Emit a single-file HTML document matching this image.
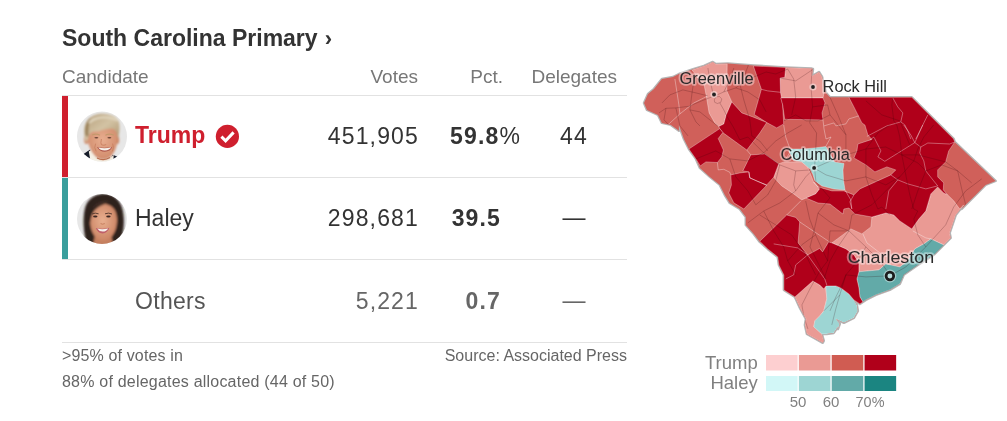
<!DOCTYPE html>
<html lang="en">
<head>
<meta charset="utf-8">
<title>South Carolina Primary</title>
<style>
html,body{margin:0;padding:0;background:#fff;}
body{width:1007px;height:421px;position:relative;overflow:hidden;font-family:"Liberation Sans",sans-serif;color:#333;}
.abs{position:absolute;white-space:nowrap;}
.layer{position:absolute;left:0;top:0;width:1007px;height:421px;will-change:transform;}
.title{left:62px;top:24px;font-size:23px;font-weight:700;color:#333;line-height:28px;}
.hdr{font-size:19px;color:#777;line-height:22px;top:65.5px;}
.line{position:absolute;left:62px;width:565px;height:1px;background:#e2e2e2;}
.bar{position:absolute;left:62px;width:6px;height:81px;}
.name{left:135px;font-size:23px;line-height:28px;}
.num{font-size:23px;line-height:28px;text-align:right;letter-spacing:1.15px;}
.foot{font-size:16px;color:#666;line-height:20px;}
</style>
</head>
<body>
<div class="layer">
<div class="abs title">South Carolina Primary<span style="margin-left:7px;font-size:22px">›</span></div>
<div class="abs hdr" style="left:62px">Candidate</div>
<div class="abs hdr" style="right:589px">Votes</div>
<div class="abs hdr" style="right:504px">Pct.</div>
<div class="abs hdr" style="right:390px">Delegates</div>
<div class="line" style="top:95px"></div>
<div class="line" style="top:177px"></div>
<div class="line" style="top:259px"></div>
<div class="line" style="top:342px"></div>
<div class="bar" style="top:96px;background:#cf1f2e"></div>
<div class="bar" style="top:178px;background:#3a9e9c"></div>

<div class="abs name" style="top:121px;color:#cf1f2e;font-weight:700">Trump</div>
<div class="abs name" style="top:203.5px">Haley</div>
<div class="abs name" style="top:286.5px;color:#555;letter-spacing:.3px">Others</div>

<div class="abs num" style="top:122px;right:588px">451,905</div>
<div class="abs num" style="top:204px;right:588px">298,681</div>
<div class="abs num" style="top:287px;right:588px;color:#666">5,221</div>

<div class="abs num" style="top:122px;left:450px"><b>59.8</b>%</div>
<div class="abs num" style="top:204px;right:506px"><b>39.5</b></div>
<div class="abs num" style="top:287px;right:506px;color:#666"><b>0.7</b></div>

<div class="abs num" style="top:122px;left:560px">44</div>
<div class="abs num" style="top:203px;left:562.6px;letter-spacing:0">—</div>
<div class="abs num" style="top:286px;left:562.6px;color:#666;letter-spacing:0">—</div>

<div class="abs foot" style="left:62px;top:346px;letter-spacing:.14px">&gt;95% of votes in</div>
<div class="abs foot" style="left:62px;top:372px;letter-spacing:.21px">88% of delegates allocated (44 of 50)</div>
<div class="abs foot" style="right:380px;top:346px">Source: Associated Press</div>
<svg class="abs" style="left:0;top:0;font-family:'Liberation Sans',sans-serif" width="1007" height="421" viewBox="0 0 1007 421">
<polygon points="644.0,102.9 648.0,93.9 654.0,88.9 661.9,79.0 672.9,77.0 678.9,74.0 693.9,69.0 703.9,66.0 712.8,62.0 715.8,64.0 727.8,63.4 753.8,65.4 785.7,67.4 811.7,68.6 813.0,69.0 812.0,76.0 819.0,72.0 822.0,76.6 826.0,92.9 830.0,97.3 911.8,97.3 953.7,139.0 954.7,142.0 995.6,180.9 985.6,184.9 975.7,194.9 965.7,204.8 961.7,209.0 963.7,205.0 955.7,215.0 949.7,232.9 950.7,237.9 943.7,244.9 933.7,254.9 917.8,264.9 903.8,274.8 899.8,283.9 889.8,289.9 875.9,294.9 865.9,299.9 862.9,301.9 859.9,303.9 853.9,299.9 856.9,304.9 857.9,310.9 853.9,317.9 843.9,322.8 835.9,318.9 839.9,323.8 837.9,329.0 837.8,326.9 833.8,332.9 826.8,333.9 821.8,333.9 823.8,340.8 822.8,342.8 815.8,338.9 806.9,333.9 804.9,324.9 805.9,318.9 799.9,307.9 794.9,296.9 783.9,290.0 783.9,275.0 778.9,265.0 777.7,256.9 767.7,248.9 759.8,241.9 753.8,233.9 745.8,224.9 745.8,217.0 739.8,209.0 729.8,203.0 724.8,195.0 719.8,184.9 709.9,176.9 699.9,167.9 695.9,158.9 688.9,149.0 683.9,139.0 678.9,125.0 678.9,130.8 670.9,124.9 661.9,122.9 658.0,114.9 647.0,109.9" fill="#d0605a" stroke="#b5b5b5" stroke-width="2.5" stroke-linejoin="round"/>
<polygon points="644.0,102.9 648.0,93.9 654.0,88.9 661.9,79.0 672.9,77.0 678.9,74.0 693.9,69.0 703.9,66.0 712.8,62.0 715.8,64.0 727.8,63.4 753.8,65.4 785.7,67.4 811.7,68.6 813.0,69.0 812.0,76.0 819.0,72.0 822.0,76.6 826.0,92.9 830.0,97.3 911.8,97.3 953.7,139.0 954.7,142.0 995.6,180.9 985.6,184.9 975.7,194.9 965.7,204.8 961.7,209.0 963.7,205.0 955.7,215.0 949.7,232.9 950.7,237.9 943.7,244.9 933.7,254.9 917.8,264.9 903.8,274.8 899.8,283.9 889.8,289.9 875.9,294.9 865.9,299.9 862.9,301.9 859.9,303.9 853.9,299.9 856.9,304.9 857.9,310.9 853.9,317.9 843.9,322.8 835.9,318.9 839.9,323.8 837.9,329.0 837.8,326.9 833.8,332.9 826.8,333.9 821.8,333.9 823.8,340.8 822.8,342.8 815.8,338.9 806.9,333.9 804.9,324.9 805.9,318.9 799.9,307.9 794.9,296.9 783.9,290.0 783.9,275.0 778.9,265.0 777.7,256.9 767.7,248.9 759.8,241.9 753.8,233.9 745.8,224.9 745.8,217.0 739.8,209.0 729.8,203.0 724.8,195.0 719.8,184.9 709.9,176.9 699.9,167.9 695.9,158.9 688.9,149.0 683.9,139.0 678.9,125.0 678.9,130.8 670.9,124.9 661.9,122.9 658.0,114.9 647.0,109.9" fill="#d0605a"/>
<clipPath id="cpS"><polygon points="644.0,102.9 648.0,93.9 654.0,88.9 661.9,79.0 672.9,77.0 678.9,74.0 693.9,69.0 703.9,66.0 712.8,62.0 715.8,64.0 727.8,63.4 753.8,65.4 785.7,67.4 811.7,68.6 813.0,69.0 812.0,76.0 819.0,72.0 822.0,76.6 826.0,92.9 830.0,97.3 911.8,97.3 953.7,139.0 954.7,142.0 995.6,180.9 985.6,184.9 975.7,194.9 965.7,204.8 961.7,209.0 963.7,205.0 955.7,215.0 949.7,232.9 950.7,237.9 943.7,244.9 933.7,254.9 917.8,264.9 903.8,274.8 899.8,283.9 889.8,289.9 875.9,294.9 865.9,299.9 862.9,301.9 859.9,303.9 853.9,299.9 856.9,304.9 857.9,310.9 853.9,317.9 843.9,322.8 835.9,318.9 839.9,323.8 837.9,329.0 837.8,326.9 833.8,332.9 826.8,333.9 821.8,333.9 823.8,340.8 822.8,342.8 815.8,338.9 806.9,333.9 804.9,324.9 805.9,318.9 799.9,307.9 794.9,296.9 783.9,290.0 783.9,275.0 778.9,265.0 777.7,256.9 767.7,248.9 759.8,241.9 753.8,233.9 745.8,224.9 745.8,217.0 739.8,209.0 729.8,203.0 724.8,195.0 719.8,184.9 709.9,176.9 699.9,167.9 695.9,158.9 688.9,149.0 683.9,139.0 678.9,125.0 678.9,130.8 670.9,124.9 661.9,122.9 658.0,114.9 647.0,109.9"/></clipPath>
<g clip-path="url(#cpS)">
<g stroke="#fff" stroke-opacity=".55" stroke-width=".6" stroke-linejoin="round">
<polygon points="692.1,70.0 703.9,66.0 712.8,62.0 715.8,64.0 727.2,63.8 726.8,90.9 731.8,101.9 726.2,114.9 723.8,123.9 718.8,126.5 714.8,122.9 709.1,112.9 706.1,94.9 704.1,84.9 698.1,78.0" fill="#ea9a94"/>
<polygon points="785.7,67.4 811.7,68.6 813.0,69.0 812.0,76.0 819.0,72.0 822.0,76.6 824.0,92.9 823.0,97.9 780.7,97.5 780.1,78.0 784.7,77.4" fill="#ea9a94"/>
<polygon points="778.7,163.9 783.7,161.9 801.7,161.9 807.7,166.9 813.6,181.9 819.6,188.9 815.6,193.9 801.7,199.9 793.7,193.9 781.7,185.9 773.7,177.3" fill="#ea9a94"/>
<polygon points="930.8,193.9 937.7,186.9 943.7,192.9 947.7,194.9 953.7,200.8 959.7,209.0 963.7,205.0 955.7,215.0 949.7,232.9 950.7,237.9 943.7,244.9 930.8,238.9 923.8,243.9 914.8,248.9 907.8,260.9 899.8,266.9 885.8,263.9 878.9,269.9 858.9,271.8 858.9,262.9 853.9,254.9 845.9,248.9 831.9,242.9 850.9,228.9 861.9,233.9 870.9,226.9 871.9,217.0 885.8,213.0 893.8,215.0 899.8,220.9 911.8,228.9 918.8,219.0 925.8,211.0 930.8,195.0" fill="#ea9a94"/>
<polygon points="794.9,296.9 812.8,281.0 819.8,285.0 823.8,289.0 825.8,286.6 826.8,298.9 823.8,310.9 819.8,315.9 814.8,320.9 813.8,326.9 821.8,333.9 823.8,340.8 822.8,342.8 815.8,338.9 806.9,333.9 804.9,324.9 805.9,318.9 799.9,307.9" fill="#ea9a94"/>
<polygon points="789.0,151.0 790.5,149.0 802.0,149.0 814.0,148.0 826.0,146.5 830.0,154.0 834.5,162.0 844.0,163.5 843.0,170.0 843.5,180.0 845.0,190.0 834.0,189.0 822.0,186.0 815.0,181.0 812.7,174.0 810.0,169.0 806.0,165.6 801.6,161.8 793.0,160.0" fill="#9dd5d3"/>
<polygon points="826.0,285.9 835.9,285.9 840.9,287.9 848.9,293.9 853.9,299.9 856.9,304.9 857.9,310.9 853.9,317.9 843.9,322.8 835.9,318.9 839.9,323.8 837.9,329.0 837.8,326.9 833.8,332.9 826.8,333.9 821.8,333.9 813.8,326.9 814.8,320.9 819.8,315.9 823.8,310.9 826.8,298.9 825.8,286.6" fill="#9dd5d3"/>
<polygon points="943.7,244.9 930.8,238.9 923.8,243.9 914.8,248.9 907.8,260.9 899.8,266.9 885.8,263.9 878.9,269.9 858.9,271.8 856.9,278.9 858.9,287.9 859.9,296.9 862.9,301.9 865.9,299.9 875.9,294.9 889.8,289.9 899.8,283.9 903.8,276.9 913.8,270.9 925.8,264.0 935.7,255.0 945.7,245.0" fill="#62aaa8"/>
<polygon points="753.4,66.0 785.7,67.4 784.7,77.4 780.1,78.0 780.5,92.3 782.7,104.9 783.7,123.9 776.7,127.9 766.7,122.5 754.2,114.5 761.4,89.3" fill="#b0001a"/>
<polygon points="780.7,97.9 806.0,97.9 823.0,97.9 825.0,102.9 822.0,112.9 823.0,119.9 784.7,119.3 782.7,104.9" fill="#b0001a"/>
<polygon points="731.8,101.9 741.8,112.9 752.8,116.9 766.7,122.5 759.8,133.0 746.8,150.0 722.8,132.6 719.8,128.6 718.8,126.5 723.8,123.9 726.2,114.9" fill="#b0001a"/>
<polygon points="688.9,149.0 719.8,128.6 722.8,132.6 718.2,138.6 723.4,150.0 721.8,156.9 717.4,162.5 705.9,161.9 700.3,165.9 695.9,158.9" fill="#b0001a"/>
<polygon points="742.8,170.9 750.8,154.9 764.7,153.9 778.7,163.9 773.7,177.3 766.7,184.9 755.8,180.9 749.8,177.9 748.8,171.9" fill="#b0001a"/>
<polygon points="730.8,174.9 739.8,172.9 748.8,171.9 749.8,177.9 766.7,185.3 743.8,209.0 733.8,202.8 728.8,192.9 731.4,184.9" fill="#b0001a"/>
<polygon points="759.8,241.3 786.7,215.0 795.7,217.4 799.7,221.9 798.1,242.9 807.7,254.9 819.6,248.5 822.6,251.9 828.6,241.9 831.9,242.9 845.9,248.9 853.9,254.9 858.9,262.9 858.9,271.8 856.9,278.9 858.9,287.9 859.9,296.9 862.9,301.9 859.9,303.9 853.9,299.9 848.9,293.9 840.9,287.9 835.9,285.9 826.0,285.9 823.8,289.0 819.8,285.0 812.8,281.0 794.9,296.9 783.9,290.0 783.9,275.0 778.9,265.0 777.7,256.9 767.7,248.9" fill="#b0001a"/>
<polygon points="848.9,97.3 911.8,97.3 953.7,139.0 954.7,142.0 948.7,150.9 945.7,161.9 937.7,169.9 937.7,176.9 943.7,182.9 943.3,189.9 947.3,194.5 943.7,192.9 937.7,186.9 930.8,193.9 925.8,211.0 918.8,219.0 911.8,228.9 899.8,220.9 893.8,215.0 885.8,213.0 871.9,217.0 854.9,214.0 848.9,208.0 843.9,209.0 842.9,214.0 830.0,204.0 818.0,203.0 806.0,198.0 815.6,193.9 819.6,188.9 813.6,181.9 818.0,186.9 831.9,190.9 843.9,190.9 853.9,194.9 859.9,188.9 890.8,174.9 895.8,169.9 886.8,166.9 874.9,171.9 865.9,164.9 853.9,157.9 856.9,150.9 857.9,144.0 871.9,139.4 867.9,135.0 864.9,125.0 861.9,122.9 853.9,106.9" fill="#b0001a"/>
</g>
<g fill="none" stroke="#fff" stroke-opacity=".5" stroke-width=".7" stroke-linejoin="round">
<polyline points="674.9,79.0 676.9,91.9 678.9,104.9 679.9,113.9"/>
<polyline points="667.9,124.9 679.9,113.9 693.9,102.9 707.9,95.9"/>
<polyline points="761.4,89.3 767.7,90.9 780.5,92.3"/>
<polyline points="783.7,125.0 785.7,137.0 790.7,150.9 784.7,160.9"/>
<polyline points="717.4,162.5 718.2,169.9 723.8,169.3 729.8,172.3 730.8,174.9"/>
<polyline points="748.8,171.9 749.8,177.9 766.7,185.3"/>
<polyline points="746.8,150.0 750.8,154.9"/>
<polyline points="799.7,221.9 828.6,241.3"/>
<polyline points="773.7,243.9 797.7,247.9 807.7,254.9"/>
<polyline points="807.7,254.9 795.7,264.9 793.7,274.8 785.7,279.0"/>
<polyline points="800.7,201.0 786.7,215.0"/>
<polyline points="807.7,254.9 814.8,265.0 824.8,279.0 826.8,285.0"/>
<polyline points="824.0,125.9 833.9,122.9 835.9,125.9 845.9,123.9 848.9,118.9 858.9,115.9"/>
<polyline points="823.0,119.9 824.0,128.9 826.0,139.0 831.0,137.0 826.0,146.0"/>
<polyline points="892.8,97.9 897.8,106.9 902.8,112.9 900.8,121.9 904.8,124.9 907.8,130.8 910.8,139.0"/>
<polyline points="927.8,114.9 915.8,139.0"/>
<polyline points="866.9,136.4 886.8,125.9 900.8,121.9"/>
<polyline points="869.9,140.0 873.9,137.0 876.9,143.0 880.9,150.9 877.9,156.9 884.8,161.3 914.8,142.6"/>
<polyline points="903.8,125.0 910.8,135.0 914.8,142.6"/>
<polyline points="922.8,125.0 914.8,142.6"/>
<polyline points="914.8,142.6 920.8,147.0 927.8,143.0 949.7,144.0 954.7,142.0"/>
<polyline points="920.8,147.0 919.8,152.9 923.8,160.9 925.8,170.9 933.7,180.9 937.7,185.9"/>
<polyline points="890.8,174.9 897.8,179.9 907.8,183.9 925.8,188.9 937.7,185.9"/>
<polyline points="897.8,179.9 888.8,190.9 885.8,209.0"/>
<polyline points="853.9,194.9 849.9,201.8 851.9,209.0"/>
<polyline points="844.9,189.9 850.8,199.9 851.8,208.8"/>
<polyline points="862.9,233.9 866.9,242.9 879.9,252.9 885.8,263.9"/>
<polyline points="912.8,230.9 925.8,237.9 930.8,238.9"/>
</g>
<g fill="none" stroke="#30000a" stroke-opacity=".3" stroke-width=".7" stroke-linejoin="round">
<polyline points="659.0,112.9 665.9,108.3 675.9,107.9 688.9,106.3 703.9,99.9 714.9,95.9 723.8,91.9 735.8,87.9 743.8,82.0 753.8,77.0 766.1,72.0 775.7,74.0 787.7,69.0"/>
<polyline points="693.9,80.0 691.9,93.9 689.9,109.9 695.9,121.9 699.9,125.9"/>
<polyline points="707.9,68.0 709.9,80.0 712.9,92.9 714.9,95.9"/>
<polyline points="719.8,102.9 723.8,109.9 727.8,117.9 733.8,127.9 739.8,139.8 747.8,137.0 763.7,152.9 779.7,164.9 795.7,170.9 811.7,169.9"/>
<polyline points="739.8,84.0 743.8,99.9 749.8,119.9 751.8,135.8 759.8,141.0 767.7,150.9"/>
<polyline points="812.0,69.0 811.0,86.9 812.6,106.9 809.7,122.9 816.6,133.0 815.6,150.9 814.6,167.9"/>
<polyline points="747.8,222.9 763.7,211.0 779.7,203.0 795.7,190.9 805.7,176.9 814.6,167.9"/>
<polyline points="814.6,167.9 826.0,162.9 845.9,154.9 865.9,149.0 885.8,147.0 901.8,154.9 917.8,162.9 925.8,170.9"/>
<polyline points="814.6,167.9 815.9,181.9 829.9,197.9 818.0,213.0 833.9,224.9 848.9,230.9 865.9,246.9 879.9,260.9 889.8,274.8"/>
<polyline points="801.9,304.9 809.9,289.0 819.8,271.0 827.6,260.9 830.0,230.9 848.9,230.9 851.9,215.0 871.9,204.8 885.8,190.9 899.8,176.9 913.8,160.9 917.8,149.0 923.8,137.0 933.7,125.0"/>
<polyline points="823.8,310.9 839.8,294.9 845.9,274.9 865.9,276.9 889.8,275.9 905.8,267.0 925.8,246.9 945.7,224.9 953.7,207.0 965.7,190.9 981.7,178.9"/>
<polyline points="925.8,170.9 941.7,164.9 957.7,170.9 971.7,182.9"/>
<polyline points="830.0,97.3 837.9,114.9 845.9,134.8 845.9,154.9"/>
<polyline points="865.9,100.9 881.8,114.9 899.8,120.9 909.8,145.0"/>
<polyline points="779.7,78.0 795.7,80.9 813.6,69.0"/>
<polyline points="695.9,158.9 715.8,150.9 729.8,158.9 747.8,160.9 763.7,152.9"/>
<polyline points="729.8,158.9 735.8,176.9 747.8,190.9 755.8,204.8"/>
<polyline points="759.8,215.0 775.7,224.9 791.7,234.9 805.7,254.9 815.6,274.8"/>
<polyline points="805.7,201.0 809.7,219.0 815.6,234.9 827.6,260.9"/>
<polyline points="662.0,102.9 669.9,94.9 682.9,89.9 695.9,92.9 707.9,95.9"/>
<polyline points="689.9,109.9 699.9,111.9 709.9,119.9 717.8,125.9"/>
<polyline points="714.3,99.9 715.8,96.9 719.4,96.5 721.8,98.9 720.8,102.3 717.4,103.5 714.7,102.3 714.3,99.9"/>
<polyline points="723.8,91.9 729.8,80.0 733.8,68.0"/>
<polyline points="735.8,87.9 747.8,91.9 759.8,99.9 766.1,111.9"/>
<polyline points="743.8,82.0 745.8,72.0 748.8,64.0"/>
<polyline points="665.9,108.3 664.0,119.9 669.9,125.9"/>
<polyline points="675.9,107.9 679.9,125.9 687.9,135.8"/>
<polyline points="865.9,149.0 877.9,133.0 889.8,125.0"/>
<polyline points="901.8,154.9 899.8,137.0 896.8,125.0 893.8,120.9 891.8,104.9 892.8,97.9"/>
<polyline points="901.8,154.9 905.8,174.9 909.8,194.9 913.8,209.0 917.8,211.0"/>
<polyline points="901.8,154.9 917.8,154.9 933.7,158.9 945.7,161.9 957.7,170.9"/>
<polyline points="925.8,170.9 917.8,190.9 911.8,209.0"/>
<polyline points="957.7,170.9 961.7,188.9 965.7,204.8"/>
<polyline points="865.9,176.9 845.9,180.9 826.0,174.9 814.0,167.9"/>
<polyline points="865.9,176.9 885.8,184.9 899.8,176.9"/>
<polyline points="865.9,176.9 865.9,164.9 865.9,149.0"/>
<polyline points="865.9,176.9 871.9,194.9 877.9,209.0 881.8,207.0 889.8,215.0"/>
<polyline points="830.0,114.9 818.0,120.9 806.0,120.9 795.7,114.9 783.7,120.9"/>
<polyline points="763.7,152.9 775.7,141.0 787.7,133.0 801.7,125.0"/>
<polyline points="779.7,164.9 775.7,180.9 767.7,194.9 755.8,204.8"/>
<polyline points="795.7,170.9 793.7,184.9 795.7,190.9"/>
<polyline points="763.7,211.0 773.7,230.9 783.7,246.9 787.7,260.9 795.7,274.8"/>
<polyline points="815.6,234.9 801.7,244.9 787.7,260.9"/>
<polyline points="818.0,213.0 814.0,230.9 810.0,246.9 818.0,262.9 826.0,279.0"/>
<polyline points="848.9,230.9 837.9,246.9 830.0,260.9 824.0,279.0"/>
<polyline points="865.9,246.9 857.9,260.9 845.9,274.8 841.9,284.9 835.9,296.9 830.0,310.9"/>
<polyline points="925.8,246.9 917.8,234.9 913.8,219.0 917.8,211.0"/>
<polyline points="801.9,304.9 803.9,316.9 807.9,328.9"/>
<polyline points="839.8,294.9 835.8,308.9 831.8,324.9"/>
<polyline points="812.6,106.9 827.6,104.9 830.0,114.9 845.9,134.8"/>
<polyline points="787.7,69.0 793.7,79.0 795.7,96.9 791.7,114.9"/>
</g>
</g>
<defs>
<clipPath id="cpT"><circle cx="102" cy="136.6" r="25"/></clipPath>
<clipPath id="cpH"><circle cx="102" cy="219" r="25"/></clipPath>
<filter id="b1" x="-20%" y="-20%" width="140%" height="140%"><feGaussianBlur stdDeviation="0.9"/></filter>
<filter id="b2" x="-20%" y="-20%" width="140%" height="140%"><feGaussianBlur stdDeviation="0.5"/></filter>
<radialGradient id="skT" cx="50%" cy="45%" r="60%"><stop offset="0" stop-color="#e8ae90"/><stop offset="1" stop-color="#cf8868"/></radialGradient>
<radialGradient id="skH" cx="48%" cy="45%" r="60%"><stop offset="0" stop-color="#e9b090"/><stop offset="1" stop-color="#c98060"/></radialGradient>
<linearGradient id="hrT" x1="0" y1="0" x2="1" y2="1"><stop offset="0" stop-color="#b39b76"/><stop offset=".5" stop-color="#d3c3a4"/><stop offset="1" stop-color="#ab926c"/></linearGradient>
</defs>
<circle cx="102" cy="136.6" r="25" fill="#e7e7e7"/>
<g clip-path="url(#cpT)"><g filter="url(#b2)">
<path d="M80 164 L83.5 154 L90.2 149.6 L94 164 Z" fill="#161b2a"/>
<path d="M124 164 L119.5 157.6 L112.6 154.8 L108 164 Z" fill="#161b2a"/>
<path d="M88.8 151.4 L91.6 149.8 L97 158 L108 160 L113.6 154.8 L113.4 164 L91 164 Z" fill="#f4f1e6"/>
</g><g filter="url(#b1)">
<ellipse cx="86.4" cy="139.8" rx="2.3" ry="4.2" fill="#d08a6a"/>
<ellipse cx="117.4" cy="140" rx="1.8" ry="4" fill="#c98362"/>
<path d="M86.8 131 C86.5 121 117.6 121 117.6 132 C118.2 142 116.6 150.6 110.6 156.8 C106.6 160.4 100.4 160.4 96.6 157.2 C90.6 152 86.8 143 86.8 131 Z" fill="url(#skT)"/>
<path d="M85.4 141 C81.8 127 86 116.4 97.6 114.2 C108 112.4 118.6 115.6 119.4 124 C120 129.6 119 135 117.8 139 C117.4 132.6 115.6 129.2 111.6 128.8 C105.6 128.4 100.6 131.4 95.6 131.6 C92 131.6 90.4 132.6 89.2 135.4 C88.2 137.4 87.6 139 87 142 Z" fill="url(#hrT)"/>
<path d="M85.6 136 C84 128 86 121 91 117.6 C88.6 123 88.2 130 88.6 136.4 Z" fill="#9c835c"/>
<path d="M89 123 C95 116.6 109 115.4 117.4 120.6" stroke="#e0d5bd" stroke-width="2.2" fill="none"/>
</g><g filter="url(#b2)">
<path d="M92.2 135 Q96 133.2 100 135.2" stroke="#c49a6c" stroke-width="1.2" fill="none"/>
<path d="M105.4 135.2 Q109.6 133.2 113.8 135.2" stroke="#c49a6c" stroke-width="1.2" fill="none"/>
<ellipse cx="96.4" cy="137.8" rx="2" ry=".75" fill="#6b4436"/>
<ellipse cx="109.4" cy="137.8" rx="2" ry=".75" fill="#6b4436"/>
<path d="M101.4 139 Q100.4 143.4 101.4 144.8 Q103.8 145.8 106.2 144.6" stroke="#c47c5b" stroke-width="1" stroke-opacity=".8" fill="none"/>
<path d="M95.6 143.6 Q93.6 147.6 96.2 151.4" stroke="#c37a5a" stroke-width=".9" stroke-opacity=".8" fill="none"/>
<path d="M112.6 143.6 Q114.4 147.6 112.4 151.4" stroke="#c37a5a" stroke-width=".9" stroke-opacity=".8" fill="none"/>
<path d="M97 147 Q104.5 148.6 112.4 146.8 Q110.4 151.6 104.8 151.8 Q99.2 151.6 97 147 Z" fill="#b0594c"/>
<path d="M98.2 147.5 Q104.8 148.9 111.4 147.3 Q109.6 150.3 104.8 150.5 Q100 150.3 98.2 147.5 Z" fill="#f6f1ea"/>
<path d="M97 158 Q103.6 161.4 110 157.6" stroke="#b96f50" stroke-width="1.2" fill="none"/>
</g></g>
<circle cx="102" cy="219" r="25" fill="#e7e7e7"/>
<g clip-path="url(#cpH)"><g filter="url(#b1)">
<path d="M85.6 240 C83 228 82.6 214 86 205 C90 196 99 193 106 193.8 C116 195 122 203 123.4 214 C124.6 224 123.6 234 119.6 241.6 L112 246 L91 246 Z" fill="#2d201b"/>
<path d="M95 235 L111 235 L113.4 246 L93 246 Z" fill="#c47f5e"/>
<path d="M89.6 218 C89 208 95.4 203.4 103 203.8 C111 204.2 116.8 209 117 219 C117.2 228 114.2 235.6 108 240 C104.6 241.8 100.8 241.6 98 239.6 C92.6 235.4 90 228 89.6 218 Z" fill="url(#skH)"/>
<path d="M110.4 202.6 C104 204 97 207 93.4 212 C91 216 90.2 221 90 226 C88 224 86.6 220 86.4 214 C86.4 205 93 197.6 103 197 C107 197 110 199 110.4 202.6 Z" fill="#2f221c"/>
<path d="M110.4 202.6 C113.6 204.6 116 208.4 117 213 C117.8 217 117.8 222 117.4 226 C120 222 121.6 214 119.4 206 C117 199.6 112 197 108 197.4 Z" fill="#2f221c"/>
<path d="M92 209 C96 203 104 200.4 109.6 201.6 C104 202.4 96.6 205 92 209 Z" fill="#4a362d"/>
</g><g filter="url(#b2)">
<path d="M92 214 Q95.2 212.4 98.6 213.8" stroke="#4a3028" stroke-width="1" stroke-opacity=".85" fill="none"/>
<path d="M105 213.8 Q108.6 212.4 112 214" stroke="#4a3028" stroke-width="1" stroke-opacity=".85" fill="none"/>
<ellipse cx="95.3" cy="216.6" rx="2.2" ry="1" fill="#3a2520"/>
<ellipse cx="108.4" cy="216.6" rx="2.2" ry="1" fill="#3a2520"/>
<path d="M100.6 223.6 Q102.4 224.8 104.8 223.6" stroke="#bd7454" stroke-width="1" stroke-opacity=".8" fill="none"/>
<path d="M95.8 228 Q102.4 229.6 109.4 227.8 Q107.6 233.2 102.6 233.4 Q97.6 233.2 95.8 228 Z" fill="#c0606a"/>
<path d="M97.2 228.6 Q102.6 229.8 108.2 228.4 Q106.6 231.4 102.6 231.6 Q98.8 231.4 97.2 228.6 Z" fill="#f6f0ec"/>
</g></g>
<circle cx="227.4" cy="136.4" r="11.6" fill="#cf1f2e"/>
<path d="M221.4 136.6 L225.6 140.8 L233.6 132.4" stroke="#fff" stroke-width="3" fill="none" stroke-linecap="butt" stroke-linejoin="miter"/>
<circle cx="714" cy="94.5" r="3.6" fill="#fff" fill-opacity=".45"/><circle cx="714" cy="94.5" r="1.9" fill="#222"/>
<circle cx="813" cy="87" r="3.6" fill="#fff" fill-opacity=".45"/><circle cx="813" cy="87" r="1.9" fill="#222"/>
<circle cx="814.1" cy="167.9" r="3.6" fill="#fff" fill-opacity=".45"/><circle cx="814.1" cy="167.9" r="1.9" fill="#222"/>
<circle cx="889.9" cy="276" r="6.4" fill="#fff" fill-opacity=".4"/><circle cx="889.9" cy="276" r="3.8" fill="#b9dfde" stroke="#1c1c1c" stroke-width="2.7"/>
<text x="679.4" y="83.5" textLength="74.2" lengthAdjust="spacingAndGlyphs" font-size="16.8" fill="#2a2a2a" stroke="#fff" stroke-opacity=".4" stroke-width="3.5" stroke-linejoin="round" paint-order="stroke">Greenville</text>
<text x="822.6" y="91.7" textLength="64.4" lengthAdjust="spacingAndGlyphs" font-size="16.8" fill="#2a2a2a" stroke="#fff" stroke-opacity=".4" stroke-width="3.5" stroke-linejoin="round" paint-order="stroke">Rock Hill</text>
<text x="780.4" y="159.8" textLength="69.4" lengthAdjust="spacingAndGlyphs" font-size="16.8" fill="#2a2a2a" stroke="#fff" stroke-opacity=".4" stroke-width="3.5" stroke-linejoin="round" paint-order="stroke">Columbia</text>
<text x="847.7" y="262.5" textLength="86.4" lengthAdjust="spacingAndGlyphs" font-size="16.8" fill="#2a2a2a" stroke="#fff" stroke-opacity=".4" stroke-width="3.5" stroke-linejoin="round" paint-order="stroke">Charleston</text>
<rect x="766.00" y="355" width="31.6" height="15.5" fill="#fdcfd0"/>
<rect x="766.00" y="376" width="31.6" height="15" fill="#d2f7f7"/>
<rect x="798.85" y="355" width="31.6" height="15.5" fill="#ea9a94"/>
<rect x="798.85" y="376" width="31.6" height="15" fill="#9dd5d3"/>
<rect x="831.70" y="355" width="31.6" height="15.5" fill="#d05c52"/>
<rect x="831.70" y="376" width="31.6" height="15" fill="#62aaa8"/>
<rect x="864.55" y="355" width="31.6" height="15.5" fill="#b0001a"/>
<rect x="864.55" y="376" width="31.6" height="15" fill="#1b8581"/>
<g fill="#808080" font-size="18.5"><text x="757.7" y="368.8" text-anchor="end">Trump</text><text x="757.7" y="388.6" text-anchor="end">Haley</text></g>
<g fill="#808080" font-size="15"><text x="798" y="406.6" text-anchor="middle">50</text><text x="831" y="406.6" text-anchor="middle">60</text><text x="855.6" y="406.6" textLength="28.9" lengthAdjust="spacingAndGlyphs">70%</text></g>
</svg>
</div>
</body>
</html>
